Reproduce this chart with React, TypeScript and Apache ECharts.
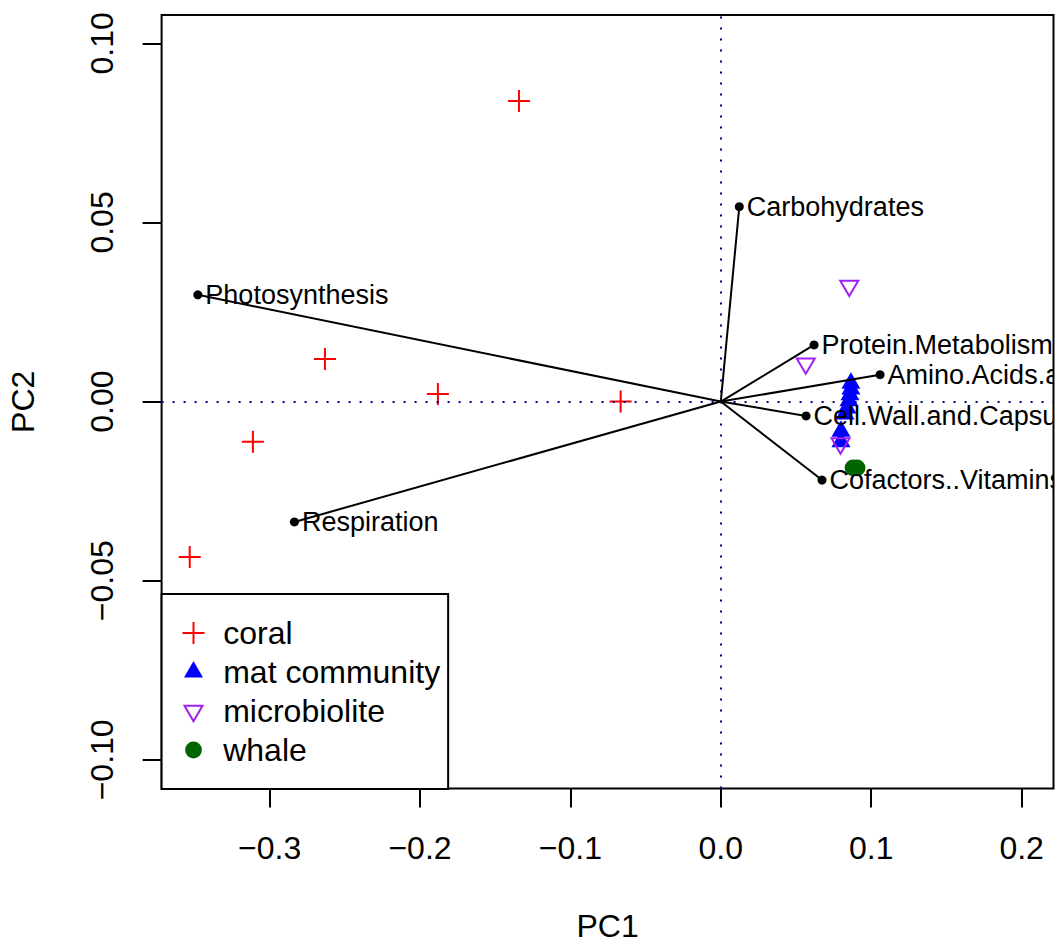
import React, { useEffect, useRef } from 'react';
import * as echarts from 'echarts';

const FONT = '"Liberation Sans", Arial, Helvetica, sans-serif';

// Axis ticks and ranges
const xTickValues = [-0.3, -0.2, -0.1, 0.0, 0.1, 0.2];
const yTickValues = [-0.1, -0.05, 0.0, 0.05, 0.1];
const xRange = [-0.3718, 0.2212];
const yRange = [-0.108, 0.1079];

// Sample scores (PC1, PC2)
const coralPC1 = [-0.1342, -0.2632, -0.1881, -0.0666, -0.3111, -0.3531];
const coralPC2 = [0.0839, 0.0119, 0.0021, 0.0, -0.0112, -0.0434];

const matPC1 = [0.0865, 0.0865, 0.0859, 0.0852, 0.0839, 0.0826, 0.0799, 0.0799];
const matPC2 = [0.0051, 0.0035, 0.0019, 0.0002, -0.0018, -0.0035, -0.0083, -0.0112];

const microPC1 = [0.0854, 0.0565, 0.0796];
const microPC2 = [0.0323, 0.0106, -0.0117];

const whalePC1 = [0.0879, 0.0906];
const whalePC2 = [-0.0185, -0.0185];

// Variable loadings (arrows)
const varNames = [
  'Carbohydrates',
  'Photosynthesis',
  'Protein.Metabolism',
  'Amino.Acids.and.Derivatives',
  'Cell.Wall.and.Capsule',
  'Cofactors..Vitamins..Prosthetic.Groups..Pigments',
  'Respiration',
];
const varPC1 = [0.0123, -0.3477, 0.062, 0.1059, 0.0567, 0.0673, -0.2835];
const varPC2 = [0.0544, 0.0298, 0.0158, 0.0075, -0.004, -0.0219, -0.0336];

// Symbols (22x22 boxes, point at box centre)
const PLUS = 'path://M0,10H22V12H0Z M10,0H12V22H10Z';
const TRI_UP = 'path://M0,0M22,22M1.5,16.5L20.5,16.5L11,0Z';
const TRI_DOWN = 'path://M0,0M22,22M2,5.8L20,5.8L11,21.2Z';
const DOT = 'path://M0,0M22,22M2.6,11A8.4,8.4,0,1,1,19.4,11A8.4,8.4,0,1,1,2.6,11Z';

const zip = (a: number[], b: number[]) => a.map((v, i) => [v, b[i]]);

const fmtX = (v: number) => (v < -1e-9 ? '\u2212' + Math.abs(v).toFixed(1) : Math.abs(v).toFixed(1));
const fmtY = (v: number) => (v < -1e-9 ? '\u2212' + Math.abs(v).toFixed(2) : Math.abs(v).toFixed(2));

export default function App() {
  const ref = useRef<HTMLDivElement>(null);

  useEffect(() => {
    if (!ref.current) return;
    const chart = echarts.init(ref.current, undefined, { renderer: 'svg' });

    const option: any = {
      animation: false,
      backgroundColor: '#fff',
      textStyle: { fontFamily: FONT },
      grid: {
        left: 161.6,
        right: 3.5,
        top: 15,
        bottom: 151.5,
        containLabel: false,
        outerBoundsMode: 'none',
        show: true,
        borderColor: '#000',
        borderWidth: 2,
        backgroundColor: 'transparent',
      },
      xAxis: {
        type: 'value',
        min: xRange[0],
        max: xRange[1],
        name: 'PC1',
        nameLocation: 'middle',
        nameGap: 137,
        nameTextStyle: {
          fontSize: 32,
          fontFamily: FONT,
          color: '#000',
          verticalAlign: 'middle',
          lineHeight: 28,
        },
        axisLine: { show: false, onZero: false },
        splitLine: { show: false },
        axisTick: {
          show: true,
          length: 19,
          lineStyle: { color: '#000', width: 2 },
          customValues: xTickValues,
        },
        axisLabel: {
          customValues: xTickValues,
          margin: 43,
          fontSize: 32,
          fontFamily: FONT,
          color: '#000',
          formatter: fmtX,
        },
      },
      yAxis: {
        type: 'value',
        min: yRange[0],
        max: yRange[1],
        name: 'PC2',
        nameLocation: 'middle',
        nameGap: 123,
        nameRotate: 90,
        nameTextStyle: { fontSize: 32, fontFamily: FONT, color: '#000' },
        axisLine: { show: false, onZero: false },
        splitLine: { show: false },
        axisTick: {
          show: true,
          length: 19,
          lineStyle: { color: '#000', width: 2 },
          customValues: yTickValues,
        },
        axisLabel: {
          customValues: yTickValues,
          margin: 44,
          rotate: 90,
          fontSize: 32,
          fontFamily: FONT,
          color: '#000',
          formatter: fmtY,
        },
      },
      legend: {
        orient: 'vertical',
        left: 161.6,
        top: 594,
        itemWidth: 22,
        itemHeight: 22,
        itemGap: 7,
        padding: [23, 8, 23, 18.4],
        borderColor: '#000',
        borderWidth: 2,
        borderRadius: 0,
        backgroundColor: '#fff',
        selectedMode: false,
        symbolKeepAspect: true,
        textStyle: { fontSize: 32, fontFamily: FONT, color: '#000', padding: [0, 0, 0, 13.7] },
        data: [
          { name: 'coral', icon: PLUS, itemStyle: { color: '#FF0000' } },
          { name: 'mat community', icon: TRI_UP, itemStyle: { color: '#0000FF' } },
          {
            name: 'microbiolite',
            icon: TRI_DOWN,
            itemStyle: { color: 'none', borderColor: '#A020F0', borderWidth: 2 },
          },
          { name: 'whale', icon: DOT, itemStyle: { color: '#006400' } },
        ],
        z: 10,
      },
      series: [
        {
          type: 'scatter',
          name: 'zero lines',
          data: [],
          z: 1,
          markLine: {
            silent: true,
            symbol: ['none', 'none'],
            label: { show: false },
            lineStyle: { color: '#000080', type: [2, 9], width: 2 },
            emphasis: { disabled: true },
            data: [{ xAxis: 0 }, { yAxis: 0 }],
          },
        },
        {
          type: 'scatter',
          name: 'coral',
          data: zip(coralPC1, coralPC2),
          symbol: PLUS,
          symbolSize: 22,
          itemStyle: { color: '#FF0000', opacity: 1 },
          z: 2,
        },
        {
          type: 'scatter',
          name: 'mat community',
          data: zip(matPC1, matPC2),
          symbol: TRI_UP,
          symbolSize: 22,
          itemStyle: { color: '#0000FF', opacity: 1 },
          z: 3,
        },
        {
          type: 'scatter',
          name: 'microbiolite',
          data: zip(microPC1, microPC2),
          symbol: TRI_DOWN,
          symbolSize: 22,
          itemStyle: { color: 'none', borderColor: '#A020F0', borderWidth: 2, opacity: 1 },
          z: 4,
        },
        {
          type: 'scatter',
          name: 'whale',
          data: zip(whalePC1, whalePC2),
          symbol: DOT,
          symbolSize: 22,
          itemStyle: { color: '#006400', opacity: 1 },
          z: 5,
        },
        {
          type: 'custom',
          name: 'loadings',
          data: zip(varPC1, varPC2),
          encode: { x: 0, y: 1 },
          clip: true,
          z: 6,
          silent: true,
          renderItem: (params: any, api: any) => {
            const o = api.coord([0, 0]);
            const p = api.coord([api.value(0), api.value(1)]);
            const name = varNames[params.dataIndex];
            return {
              type: 'group',
              children: [
                {
                  type: 'line',
                  shape: { x1: o[0], y1: o[1], x2: p[0], y2: p[1] },
                  style: { stroke: '#000', lineWidth: 2 },
                },
                {
                  type: 'circle',
                  shape: { cx: p[0], cy: p[1], r: 4.5 },
                  style: { fill: '#000' },
                },
                {
                  type: 'text',
                  x: p[0] + 7.5,
                  y: p[1],
                  style: {
                    text: name,
                    fill: '#000',
                    fontSize: 27,
                    fontFamily: FONT,
                    align: 'left',
                    verticalAlign: 'middle',
                  },
                },
              ],
            };
          },
        },
      ],
    };

    chart.setOption(option);
    return () => {
      chart.dispose();
    };
  }, []);

  return (
    <div
      ref={ref}
      style={{ position: 'fixed', left: 0, top: 0, width: 1057, height: 940, background: '#fff' }}
    />
  );
}
